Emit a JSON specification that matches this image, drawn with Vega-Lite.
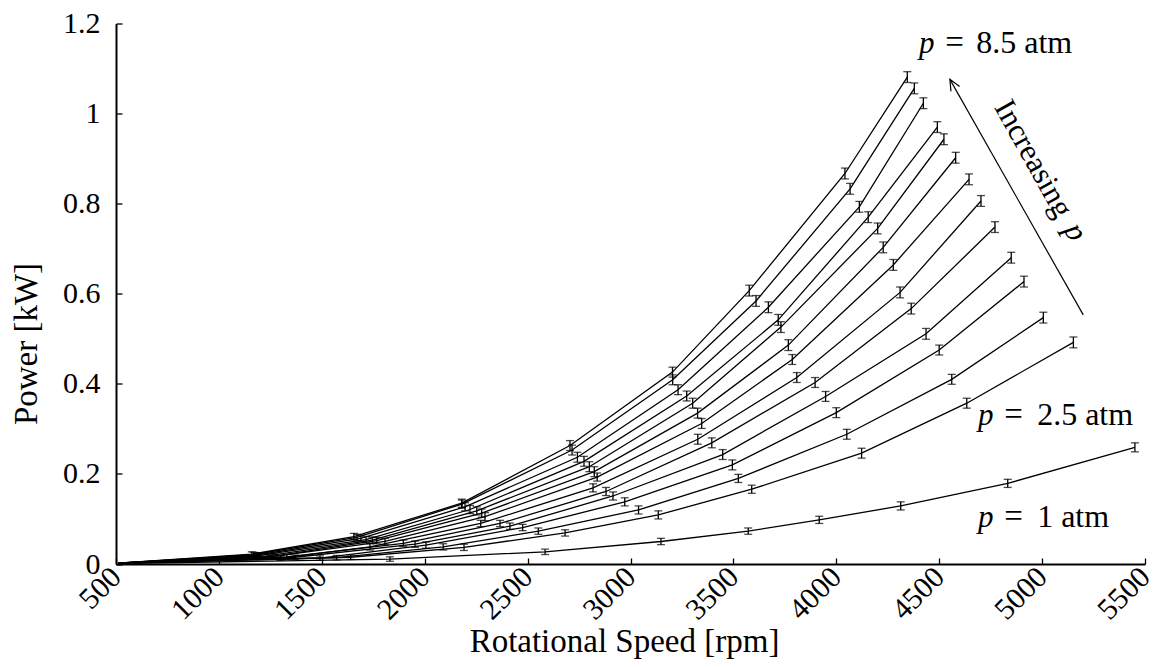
{
  "$schema": "https://vega.github.io/schema/vega-lite/v6.json",
  "autosize": {"type": "none"},
  "width": 1029,
  "height": 540.5,
  "padding": {"left": 116, "top": 23.5, "right": 11, "bottom": 103},
  "background": "white",
  "config": {
    "view": {"stroke": null},
    "font": "Liberation Serif",
    "axis": {"labelFont": "Liberation Serif", "titleFont": "Liberation Serif", "labelColor": "black", "titleColor": "black", "titleFontWeight": "normal", "domainColor": "black", "tickColor": "black", "grid": false}
  },
  "datasets": {
    "meas": [
      {"p": "8.5", "rpm": 510, "P": 0.002, "e": 0},
      {"p": "8.5", "rpm": 1160, "P": 0.022, "e": 0.005},
      {"p": "8.5", "rpm": 1656, "P": 0.061, "e": 0.007},
      {"p": "8.5", "rpm": 2180, "P": 0.135, "e": 0.009},
      {"p": "8.5", "rpm": 2706, "P": 0.263, "e": 0.011},
      {"p": "8.5", "rpm": 3204, "P": 0.426, "e": 0.011},
      {"p": "8.5", "rpm": 3577, "P": 0.607, "e": 0.012},
      {"p": "8.5", "rpm": 4042, "P": 0.867, "e": 0.012},
      {"p": "8.5", "rpm": 4345, "P": 1.081, "e": 0.012},
      {"p": "8", "rpm": 510, "P": 0.002, "e": 0},
      {"p": "8", "rpm": 1170, "P": 0.021, "e": 0.005},
      {"p": "8", "rpm": 1671, "P": 0.059, "e": 0.007},
      {"p": "8", "rpm": 2181, "P": 0.133, "e": 0.009},
      {"p": "8", "rpm": 2716, "P": 0.253, "e": 0.011},
      {"p": "8", "rpm": 3205, "P": 0.409, "e": 0.011},
      {"p": "8", "rpm": 3610, "P": 0.584, "e": 0.012},
      {"p": "8", "rpm": 4067, "P": 0.833, "e": 0.012},
      {"p": "8", "rpm": 4379, "P": 1.056, "e": 0.012},
      {"p": "7.5", "rpm": 510, "P": 0.002, "e": 0},
      {"p": "7.5", "rpm": 1185, "P": 0.020, "e": 0.005},
      {"p": "7.5", "rpm": 1690, "P": 0.057, "e": 0.007},
      {"p": "7.5", "rpm": 2196, "P": 0.127, "e": 0.009},
      {"p": "7.5", "rpm": 2742, "P": 0.237, "e": 0.011},
      {"p": "7.5", "rpm": 3231, "P": 0.387, "e": 0.011},
      {"p": "7.5", "rpm": 3670, "P": 0.570, "e": 0.012},
      {"p": "7.5", "rpm": 4112, "P": 0.793, "e": 0.012},
      {"p": "7.5", "rpm": 4423, "P": 1.023, "e": 0.012},
      {"p": "7", "rpm": 510, "P": 0.002, "e": 0},
      {"p": "7", "rpm": 1200, "P": 0.019, "e": 0.005},
      {"p": "7", "rpm": 1715, "P": 0.054, "e": 0.007},
      {"p": "7", "rpm": 2220, "P": 0.121, "e": 0.009},
      {"p": "7", "rpm": 2774, "P": 0.228, "e": 0.011},
      {"p": "7", "rpm": 3273, "P": 0.373, "e": 0.011},
      {"p": "7", "rpm": 3718, "P": 0.542, "e": 0.012},
      {"p": "7", "rpm": 4155, "P": 0.770, "e": 0.012},
      {"p": "7", "rpm": 4491, "P": 0.970, "e": 0.012},
      {"p": "6.5", "rpm": 510, "P": 0.002, "e": 0},
      {"p": "6.5", "rpm": 1235, "P": 0.018, "e": 0.005},
      {"p": "6.5", "rpm": 1745, "P": 0.053, "e": 0.007},
      {"p": "6.5", "rpm": 2253, "P": 0.118, "e": 0.009},
      {"p": "6.5", "rpm": 2800, "P": 0.216, "e": 0.011},
      {"p": "6.5", "rpm": 3302, "P": 0.357, "e": 0.011},
      {"p": "6.5", "rpm": 3731, "P": 0.526, "e": 0.012},
      {"p": "6.5", "rpm": 4201, "P": 0.745, "e": 0.012},
      {"p": "6.5", "rpm": 4523, "P": 0.943, "e": 0.012},
      {"p": "6", "rpm": 510, "P": 0.002, "e": 0},
      {"p": "6", "rpm": 1260, "P": 0.017, "e": 0.005},
      {"p": "6", "rpm": 1767, "P": 0.052, "e": 0.007},
      {"p": "6", "rpm": 2277, "P": 0.113, "e": 0.009},
      {"p": "6", "rpm": 2824, "P": 0.205, "e": 0.011},
      {"p": "6", "rpm": 3326, "P": 0.335, "e": 0.011},
      {"p": "6", "rpm": 3767, "P": 0.486, "e": 0.012},
      {"p": "6", "rpm": 4228, "P": 0.703, "e": 0.012},
      {"p": "6", "rpm": 4580, "P": 0.902, "e": 0.012},
      {"p": "5.5", "rpm": 510, "P": 0.002, "e": 0},
      {"p": "5.5", "rpm": 1270, "P": 0.017, "e": 0.005},
      {"p": "5.5", "rpm": 1807, "P": 0.050, "e": 0.007},
      {"p": "5.5", "rpm": 2293, "P": 0.105, "e": 0.009},
      {"p": "5.5", "rpm": 2838, "P": 0.193, "e": 0.009},
      {"p": "5.5", "rpm": 3346, "P": 0.312, "e": 0.011},
      {"p": "5.5", "rpm": 3786, "P": 0.454, "e": 0.011},
      {"p": "5.5", "rpm": 4277, "P": 0.664, "e": 0.012},
      {"p": "5.5", "rpm": 4645, "P": 0.854, "e": 0.012},
      {"p": "5", "rpm": 510, "P": 0.002, "e": 0},
      {"p": "5", "rpm": 1300, "P": 0.013, "e": 0.005},
      {"p": "5", "rpm": 1734, "P": 0.038, "e": 0.007},
      {"p": "5", "rpm": 2272, "P": 0.090, "e": 0.007},
      {"p": "5", "rpm": 2818, "P": 0.169, "e": 0.009},
      {"p": "5", "rpm": 3327, "P": 0.277, "e": 0.011},
      {"p": "5", "rpm": 3808, "P": 0.414, "e": 0.011},
      {"p": "5", "rpm": 4310, "P": 0.603, "e": 0.012},
      {"p": "5", "rpm": 4703, "P": 0.806, "e": 0.012},
      {"p": "4.5", "rpm": 510, "P": 0.002, "e": 0},
      {"p": "4.5", "rpm": 1330, "P": 0.016, "e": 0.005},
      {"p": "4.5", "rpm": 1896, "P": 0.046, "e": 0.007},
      {"p": "4.5", "rpm": 2366, "P": 0.090, "e": 0.007},
      {"p": "4.5", "rpm": 2881, "P": 0.161, "e": 0.009},
      {"p": "4.5", "rpm": 3395, "P": 0.269, "e": 0.011},
      {"p": "4.5", "rpm": 3897, "P": 0.403, "e": 0.011},
      {"p": "4.5", "rpm": 4364, "P": 0.567, "e": 0.012},
      {"p": "4.5", "rpm": 4771, "P": 0.748, "e": 0.012},
      {"p": "4", "rpm": 510, "P": 0.002, "e": 0},
      {"p": "4", "rpm": 1370, "P": 0.015, "e": 0.005},
      {"p": "4", "rpm": 1953, "P": 0.044, "e": 0.007},
      {"p": "4", "rpm": 2414, "P": 0.084, "e": 0.007},
      {"p": "4", "rpm": 2915, "P": 0.151, "e": 0.009},
      {"p": "4", "rpm": 3448, "P": 0.243, "e": 0.011},
      {"p": "4", "rpm": 3948, "P": 0.372, "e": 0.011},
      {"p": "4", "rpm": 4436, "P": 0.511, "e": 0.012},
      {"p": "4", "rpm": 4850, "P": 0.680, "e": 0.012},
      {"p": "3.5", "rpm": 510, "P": 0.002, "e": 0},
      {"p": "3.5", "rpm": 1491, "P": 0.013, "e": 0.005},
      {"p": "3.5", "rpm": 2006, "P": 0.042, "e": 0.007},
      {"p": "3.5", "rpm": 2476, "P": 0.081, "e": 0.007},
      {"p": "3.5", "rpm": 2972, "P": 0.138, "e": 0.009},
      {"p": "3.5", "rpm": 3495, "P": 0.220, "e": 0.011},
      {"p": "3.5", "rpm": 4000, "P": 0.336, "e": 0.011},
      {"p": "3.5", "rpm": 4500, "P": 0.475, "e": 0.011},
      {"p": "3.5", "rpm": 4912, "P": 0.627, "e": 0.012},
      {"p": "3", "rpm": 510, "P": 0.002, "e": 0},
      {"p": "3", "rpm": 1572, "P": 0.014, "e": 0.005},
      {"p": "3", "rpm": 2090, "P": 0.038, "e": 0.007},
      {"p": "3", "rpm": 2552, "P": 0.073, "e": 0.007},
      {"p": "3", "rpm": 3039, "P": 0.120, "e": 0.009},
      {"p": "3", "rpm": 3524, "P": 0.190, "e": 0.009},
      {"p": "3", "rpm": 4051, "P": 0.288, "e": 0.011},
      {"p": "3", "rpm": 4561, "P": 0.410, "e": 0.011},
      {"p": "3", "rpm": 5006, "P": 0.547, "e": 0.012},
      {"p": "2.5", "rpm": 510, "P": 0.002, "e": 0},
      {"p": "2.5", "rpm": 1640, "P": 0.015, "e": 0.005},
      {"p": "2.5", "rpm": 2191, "P": 0.037, "e": 0.007},
      {"p": "2.5", "rpm": 2682, "P": 0.069, "e": 0.007},
      {"p": "2.5", "rpm": 3135, "P": 0.109, "e": 0.009},
      {"p": "2.5", "rpm": 3589, "P": 0.166, "e": 0.009},
      {"p": "2.5", "rpm": 4123, "P": 0.246, "e": 0.011},
      {"p": "2.5", "rpm": 4634, "P": 0.357, "e": 0.011},
      {"p": "2.5", "rpm": 5152, "P": 0.492, "e": 0.012},
      {"p": "1", "rpm": 510, "P": 0.001, "e": 0},
      {"p": "1", "rpm": 1831, "P": 0.011, "e": 0.005},
      {"p": "1", "rpm": 2585, "P": 0.027, "e": 0.006},
      {"p": "1", "rpm": 3148, "P": 0.050, "e": 0.007},
      {"p": "1", "rpm": 3572, "P": 0.073, "e": 0.007},
      {"p": "1", "rpm": 3917, "P": 0.098, "e": 0.008},
      {"p": "1", "rpm": 4313, "P": 0.129, "e": 0.009},
      {"p": "1", "rpm": 4833, "P": 0.179, "e": 0.009},
      {"p": "1", "rpm": 5451, "P": 0.259, "e": 0.010}
    ]
  },
  "layer": [
    {
      "data": {"name": "meas"},
      "mark": {"type": "line", "color": "black", "strokeWidth": 1.3},
      "encoding": {
        "x": {"field": "rpm", "type": "quantitative", "title": "Rotational Speed [rpm]", "scale": {"domain": [500, 5500], "nice": false, "zero": false},
          "axis": {"values": [500,1000,1500,2000,2500,3000,3500,4000,4500,5000,5500], "format": "d", "labelAngle": -45, "labelAlign": "right", "labelBaseline": "middle", "labelFontSize": 30, "titleFontSize": 33, "tickSize": -6, "tickWidth": 1.3, "domainWidth": 2, "labelPadding": 14, "titleX": 508, "titleY": 87, "titleAlign": "center", "titleBaseline": "alphabetic", "labelFlush": false, "labelOverlap": false}},
        "y": {"field": "P", "type": "quantitative", "title": "Power [kW]", "scale": {"domain": [0, 1.2], "nice": false},
          "axis": {"values": [0,0.2,0.4,0.6,0.8,1,1.2], "format": ".1~f", "labelFontSize": 30, "titleFontSize": 33, "tickSize": -6, "tickWidth": 1.3, "domainWidth": 2, "labelPadding": 22, "titleX": -90, "titleY": 320, "titleAngle": -90, "titleAlign": "center", "titleBaseline": "middle", "labelFlush": false, "labelOverlap": false}},
        "detail": {"field": "p"}
      }
    },
    {
      "data": {"name": "meas"},
      "transform": [{"filter": "datum.e > 0"}],
      "mark": {"type": "errorbar", "ticks": {"size": 8, "thickness": 1.3, "color": "black"}, "rule": {"strokeWidth": 1.3, "color": "black"}, "color": "black"},
      "encoding": {
        "x": {"field": "rpm", "type": "quantitative", "title": "Rotational Speed [rpm]"},
        "y": {"field": "P", "type": "quantitative", "title": "Power [kW]"},
        "yError": {"field": "e"}
      }
    },
    {
      "data": {"values": [
        {"rpm": 4402, "P": 1.134},
        {"rpm": 4688, "P": 0.309},
        {"rpm": 4688, "P": 0.083}
      ]},
      "mark": {"type": "text", "text": "p", "fontStyle": "italic", "fontSize": 31, "align": "left", "baseline": "alphabetic", "font": "Liberation Serif"},
      "encoding": {"x": {"field": "rpm", "type": "quantitative", "title": "Rotational Speed [rpm]"}, "y": {"field": "P", "type": "quantitative", "title": "Power [kW]"}}
    },
    {
      "data": {"values": [
        {"rpm": 4530, "P": 1.134},
        {"rpm": 4816, "P": 0.309},
        {"rpm": 4816, "P": 0.083}
      ]},
      "mark": {"type": "text", "text": "=", "fontSize": 33, "align": "left", "baseline": "alphabetic", "font": "Liberation Serif"},
      "encoding": {"x": {"field": "rpm", "type": "quantitative", "title": "Rotational Speed [rpm]"}, "y": {"field": "P", "type": "quantitative", "title": "Power [kW]"}}
    },
    {
      "data": {"values": [
        {"rpm": 4680, "P": 1.134, "t": "8.5 atm"},
        {"rpm": 4976, "P": 0.309, "t": "2.5 atm"},
        {"rpm": 4976, "P": 0.083, "t": "1 atm"}
      ]},
      "mark": {"type": "text", "fontSize": 32, "align": "left", "baseline": "alphabetic", "font": "Liberation Serif"},
      "encoding": {"x": {"field": "rpm", "type": "quantitative", "title": "Rotational Speed [rpm]"}, "y": {"field": "P", "type": "quantitative", "title": "Power [kW]"}, "text": {"field": "t"}}
    },
    {
      "data": {"values": [{"rpm": 5200, "P": 0.553, "rpm2": 4552, "P2": 1.076}]},
      "mark": {"type": "rule", "color": "black", "strokeWidth": 1.2},
      "encoding": {"x": {"field": "rpm", "type": "quantitative", "title": "Rotational Speed [rpm]"}, "y": {"field": "P", "type": "quantitative", "title": "Power [kW]"}, "x2": {"field": "rpm2"}, "y2": {"field": "P2"}}
    },
    {
      "data": {"values": [{"rpm": 4552, "P": 1.076}]},
      "mark": {"type": "point", "shape": "M -0.45 1 L 0 0 L 0.45 1", "size": 484, "angle": -29.2, "filled": false, "color": "black", "strokeWidth": 1.2, "opacity": 1},
      "encoding": {"x": {"field": "rpm", "type": "quantitative", "title": "Rotational Speed [rpm]"}, "y": {"field": "P", "type": "quantitative", "title": "Power [kW]"}}
    },
    {
      "data": {"values": [{"rpm": 4956, "P": 0.899, "t": "Increasing"}]},
      "mark": {"type": "text", "fontSize": 31, "angle": 60.8, "align": "center", "baseline": "middle", "font": "Liberation Serif"},
      "encoding": {"x": {"field": "rpm", "type": "quantitative", "title": "Rotational Speed [rpm]"}, "y": {"field": "P", "type": "quantitative", "title": "Power [kW]"}, "text": {"field": "t"}}
    },
    {
      "data": {"values": [{"rpm": 5160, "P": 0.737, "t": "p"}]},
      "mark": {"type": "text", "fontSize": 31, "angle": 60.8, "align": "center", "baseline": "middle", "fontStyle": "italic", "font": "Liberation Serif"},
      "encoding": {"x": {"field": "rpm", "type": "quantitative", "title": "Rotational Speed [rpm]"}, "y": {"field": "P", "type": "quantitative", "title": "Power [kW]"}, "text": {"field": "t"}}
    }
  ]
}
